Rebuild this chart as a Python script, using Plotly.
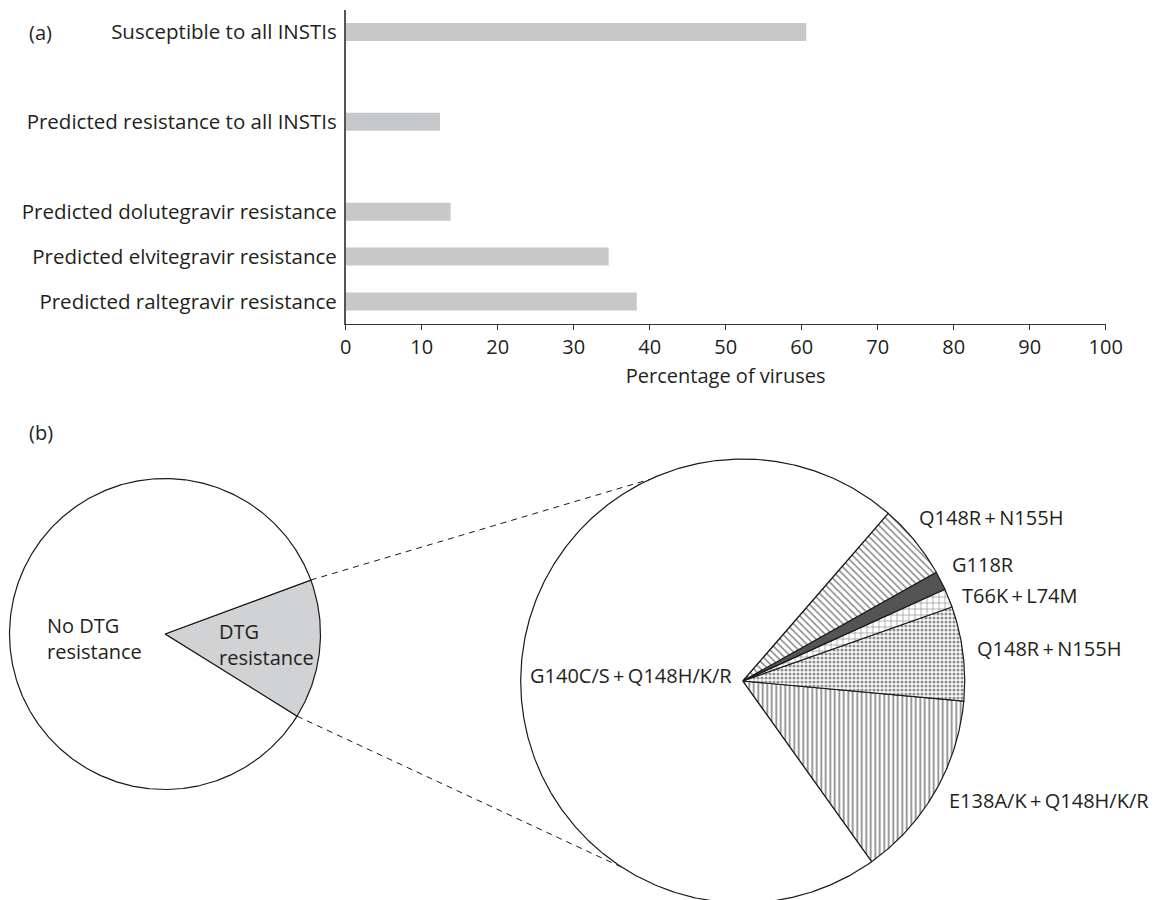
import numpy as np
import plotly.graph_objects as go

# ---------------- data ----------------
bar_labels = [
    "Susceptible to all INSTIs",
    "Predicted resistance to all INSTIs",
    "Predicted dolutegravir resistance",
    "Predicted elvitegravir resistance",
    "Predicted raltegravir resistance",
]
bar_values = [60.6, 12.4, 13.8, 34.6, 38.3]
bar_positions = [6, 4, 2, 1, 0]
x_ticks = [0, 10, 20, 30, 40, 50, 60, 70, 80, 90, 100]

overview_labels = ["DTG resistance", "No DTG resistance"]
overview_values = [14.5, 85.5]

detail_labels = [
    "E138A/K\u2009+\u2009Q148H/K/R",
    "Q148R\u2009+\u2009N155H",
    "T66K\u2009+\u2009L74M",
    "G118R",
    "Q148R\u2009+\u2009N155H",
    "G140C/S\u2009+\u2009Q148H/K/R",
]
detail_values = [10, 5, 1, 1, 4, 52]

# ---------------- style ----------------
FONT = "Open Sans"
TXT = "#231f20"
BAR_C = "#c7c8ca"
W, H = 1157, 900

fig = go.Figure()

# ---- panel (a): bar chart ----
fig.add_trace(go.Bar(
    x=bar_values, y=bar_positions, orientation="h",
    width=0.4, marker=dict(color=BAR_C, line=dict(width=0)),
    xaxis="x", yaxis="y", hoverinfo="x+y",
))

# ---- panel (b): pies drawn as polygons in pixel space ----
def wedge(cx, cy, r, a0, a1):
    n = max(3, int(abs(a1 - a0) * 2))
    t = np.radians(np.linspace(a0, a1, n))
    xs = np.concatenate([[cx], cx + r * np.cos(t), [cx]])
    ys = np.concatenate([[cy], cy - r * np.sin(t), [cy]])
    return xs, ys

def pie_angles(values, start):
    tot = float(sum(values))
    out, a = [], start
    for v in values:
        span = 360.0 * v / tot
        out.append((a, a + span))
        a += span
    return out

# left overview pie
L_CX, L_CY, L_R = 165.0, 634.0, 155.5
left_angles = pie_angles(overview_values, -31.9)
left_fill = ["#d1d2d4", "white"]
for (a0, a1), col, lab in zip(left_angles, left_fill, overview_labels):
    xs, ys = wedge(L_CX, L_CY, L_R, a0, a1)
    fig.add_trace(go.Scatter(
        x=xs, y=ys, mode="lines", fill="toself", fillcolor=col,
        line=dict(color="#1a1a1a", width=1.2), name=lab,
        xaxis="x2", yaxis="y2", hoverinfo="name",
    ))

# right detail pie
R_CX, R_CY, R_R = 742.7, 681.0, 222.0
right_angles = pie_angles(detail_values, -54.5)
patterns = [
    dict(shape="|", size=4.5, solidity=0.38, fgcolor="#111111", bgcolor="white"),
    dict(shape=".", size=4, solidity=0.5, fgcolor="#222222", bgcolor="white"),
    dict(shape="+", size=6, solidity=0.2, fgcolor="#111111", bgcolor="white"),
    None,
    dict(shape="\\", size=5, solidity=0.3, fgcolor="#111111", bgcolor="white"),
    None,
]
fills = ["white", "white", "white", "#545454", "white", "white"]

# dashed connectors (drawn first, from overview wedge edges to detail pie)
dtg_a0, dtg_a1 = left_angles[0]
for a_left, a_right in [(dtg_a1, 114.6), (dtg_a0, -122.9)]:
    x0 = L_CX + L_R * np.cos(np.radians(a_left))
    y0 = L_CY - L_R * np.sin(np.radians(a_left))
    x1 = R_CX + R_R * np.cos(np.radians(a_right))
    y1 = R_CY - R_R * np.sin(np.radians(a_right))
    fig.add_trace(go.Scatter(
        x=[x0, x1], y=[y0, y1], mode="lines",
        line=dict(color="#1a1a1a", width=1, dash="6px,5px"),
        xaxis="x2", yaxis="y2", hoverinfo="skip",
    ))

for (a0, a1), col, pat, lab in zip(right_angles, fills, patterns, detail_labels):
    xs, ys = wedge(R_CX, R_CY, R_R, a0, a1)
    kw = dict(fillpattern=pat) if pat else {}
    fig.add_trace(go.Scatter(
        x=xs, y=ys, mode="lines", fill="toself", fillcolor=col,
        line=dict(color="#1a1a1a", width=1.2), name=lab,
        xaxis="x2", yaxis="y2", hoverinfo="name", **kw,
    ))

# ---------------- annotations ----------------
ann = []
def add_text(x, y, text, anchor="left", size=20):
    ann.append(dict(x=x, y=y, xref="x2", yref="y2", text=text, showarrow=False,
                    xanchor=anchor, yanchor="middle", align="left",
                    font=dict(family=FONT, size=size, color=TXT)))

add_text(27, 32, "(a)", size=20)
add_text(27, 432, "(b)", size=20)
add_text(45, 638, "No DTG<br>resistance")
add_text(217, 644, "DTG<br>resistance")

label_pos = [
    (947, 800, "left"),
    (975, 648, "left"),
    (960, 595, "left"),
    (950, 564, "left"),
    (917, 517, "left"),
    (734, 675, "right"),
]
for (x, y, anc), lab in zip(label_pos, detail_labels):
    add_text(x, y, lab, anchor=anc)

fig.update_layout(
    width=W, height=H,
    margin=dict(l=0, r=0, t=0, b=0),
    paper_bgcolor="white", plot_bgcolor="rgba(0,0,0,0)",
    showlegend=False,
    font=dict(family=FONT, color=TXT, size=20),
    annotations=ann,
    xaxis=dict(
        domain=[345.7 / W, 1105.7 / W], range=[0, 100], anchor="y",
        showline=True, linecolor="#333333", linewidth=1,
        ticks="outside", ticklen=5, tickcolor="#333333", tickwidth=1,
        tickvals=x_ticks, ticktext=[str(v) for v in x_ticks],
        showgrid=False, zeroline=False, automargin=False, fixedrange=True,
        tickfont=dict(family=FONT, size=20, color=TXT),
        title=dict(text="Percentage of viruses", standoff=9,
                   font=dict(family=FONT, size=20, color=TXT)),
    ),
    yaxis=dict(
        domain=[1 - 324 / H, 1 - 9.5 / H], range=[-0.5, 6.5], anchor="x",
        showline=True, linecolor="#555555", linewidth=1.5,
        ticks="", tickvals=bar_positions, ticktext=bar_labels,
        ticklabelstandoff=3,
        showgrid=False, zeroline=False, automargin=False, fixedrange=True,
        tickfont=dict(family=FONT, size=20.5, color=TXT),
    ),
    xaxis2=dict(domain=[0, 1], range=[0, W], anchor="y2", visible=False,
                fixedrange=True),
    yaxis2=dict(domain=[0, 1], range=[H, 0], anchor="x2", visible=False,
                fixedrange=True),
)

fig.write_html("out.html")
